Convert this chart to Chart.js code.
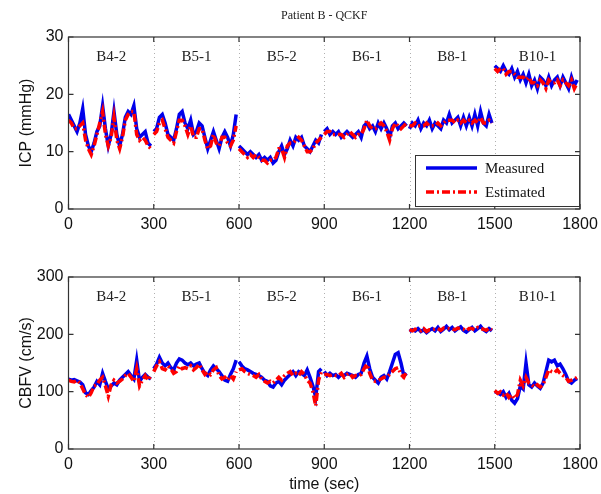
<!DOCTYPE html>
<html>
<head>
<meta charset="utf-8">
<script src="https://cdn.jsdelivr.net/npm/chart.js@4.4.0/dist/chart.umd.min.js"></script>
<style>
  body { margin: 0; background: #fff; width: 601px; height: 494px; overflow: hidden; }
  .box { position: absolute; left: 0; width: 601px; }
</style>
</head>
<body>
<div class="box" style="top:0;height:240px"><canvas id="icpChart"></canvas></div>
<div class="box" style="top:240px;height:254px"><canvas id="cbfvChart"></canvas></div>
<script>
// Segments (recordings), 300 s each
const segLabels = ['B4-2', 'B5-1', 'B5-2', 'B6-1', 'B8-1', 'B10-1'];
const segStarts = [0, 300, 600, 900, 1200, 1500];
// sample times inside a segment (sec)
const sampleOffsets = [0, 10, 20, 30, 40, 50, 60, 70, 80, 90, 100, 110, 120, 130, 140,
  150, 160, 170, 180, 190, 200, 210, 220, 230, 240, 250, 260, 270, 280, 290];

const xTicks = [0, 300, 600, 900, 1200, 1500, 1800];
const icpTicks = [0, 10, 20, 30];
const cbfvTicks = [0, 100, 200, 300];

// ICP (mmHg), one row per segment
const icpMeasured = [
  [16.5, 15.5, 14.5, 13.5, 15, 17.5, 13, 11, 10, 11.5, 13.5, 14.5, 18, 14, 11, 13, 17, 13, 11, 13, 16, 17, 16.5, 18, 14, 12.5, 13, 13.5, 11.5, 11],
  [13.5, 14, 16, 16.5, 15, 13, 12.5, 12, 14, 16.5, 17, 15, 14, 15.5, 13, 13.5, 15, 14.5, 12.5, 10.5, 12, 13.5, 12, 10.5, 12.5, 13.5, 12.5, 11, 13, 16.5],
  [11, 10.5, 10, 9.5, 10, 9.5, 9, 9.5, 8.5, 9, 8.5, 9, 8, 8.5, 10, 11, 9.5, 10.5, 12, 11, 12.5, 12, 12.5, 11, 10.5, 10, 11, 12, 11.5, 13],
  [13.5, 14, 13, 13.5, 13, 13.5, 12.5, 13, 13.5, 13, 12.5, 13, 13.5, 12.5, 14.5, 15, 14, 14.5, 13.5, 15, 14, 15, 14, 12.5, 14.5, 15, 14, 14.5, 15, 14.5],
  [14, 15, 14.5, 15.5, 14, 15, 14.5, 15.5, 14, 15, 14.5, 14, 15.5, 15, 16.5, 15, 15.5, 16, 14.5, 16, 14.5, 16, 14.5, 16.5, 14.5, 17, 15, 14.5, 16.5, 15],
  [25, 24.5, 24, 25, 24, 23.5, 24.5, 23, 24, 22.5, 23.5, 22, 23.5, 21.5, 22.5, 21, 23, 22.5, 21.5, 23, 21.5, 22.5, 23, 21.5, 23, 22, 21, 23, 21.5, 22.5]
];
const icpEstimated = [
  [15.5, 15, 14, 14, 14.5, 15, 12, 10.5, 9.5, 11, 13, 15, 17, 13, 11, 12.5, 16, 12, 10.5, 12.5, 15.5, 16.5, 17, 17, 13, 12, 12.5, 12, 11, 10.5],
  [13, 13.5, 15, 15.5, 14, 12.5, 12, 11.5, 13.5, 15.5, 15.5, 14.5, 13, 14.5, 12.5, 12.5, 14, 14, 12, 10.5, 11, 13, 11.5, 11, 12.5, 12.5, 11.5, 11, 12, 14.5],
  [10.5, 10, 9.5, 9, 9.5, 9, 9.5, 9, 8.5, 8.5, 8, 8.5, 8.5, 9, 10.5, 10.5, 9, 11, 11.5, 11.5, 12, 12.5, 12, 11, 10, 10, 10.5, 11.5, 12, 12.5],
  [13, 13.5, 13.5, 13, 13, 13, 13, 12.5, 13, 13.5, 13, 12.5, 13, 13, 14, 15.5, 14.5, 14, 14, 14.5, 15, 14.5, 13.5, 12, 14, 15, 14.5, 14, 14.5, 15],
  [14.5, 14.5, 15, 14.5, 14.5, 14.5, 15, 14.5, 14.5, 14.5, 15, 14.5, 15, 15.5, 15.5, 15.5, 15, 15.5, 15, 15.5, 15, 15.5, 15, 15.5, 15, 16, 15, 15, 15.5, 15],
  [24.5, 24, 24.5, 24.5, 23.5, 24, 24, 23.5, 23, 23, 23, 22.5, 23, 22, 22, 21.5, 22.5, 22, 21, 22.5, 22, 22, 22.5, 21.5, 22.5, 22, 21.5, 22.5, 21, 22]
];

// CBFV (cm/s), one row per segment
const cbfvMeasured = [
  [122, 120, 121, 119, 117, 112, 98, 95, 102, 108, 118, 112, 132, 118, 105, 110, 115, 112, 120, 125, 130, 135, 128, 122, 155, 118, 125, 130, 125, 122],
  [140, 148, 160, 150, 145, 150, 142, 138, 150, 157, 155, 150, 147, 150, 145, 148, 150, 140, 132, 128, 138, 145, 140, 135, 128, 120, 118, 130, 140, 155],
  [152, 145, 140, 138, 135, 132, 130, 128, 125, 120, 118, 110, 108, 115, 118, 112, 120, 125, 130, 135, 128, 135, 132, 128, 138, 125, 110, 90, 135, 140],
  [135, 128, 132, 128, 130, 125, 130, 128, 132, 130, 128, 125, 130, 132, 150, 162, 140, 125, 120, 115, 125, 128, 122, 135, 150, 165, 168, 150, 128, 132],
  [205, 208, 206, 210, 205, 208, 203, 207, 210, 206, 212, 205, 209, 214, 208, 212, 206, 210, 213, 207, 204, 208, 212, 206, 210, 214, 208, 205, 210, 206],
  [100, 98, 95, 100, 90, 97, 85, 80, 88, 110, 105, 150, 112, 108, 115, 110, 106, 115, 135, 155, 152, 155, 145, 148, 140, 130, 118, 115, 120, 123]
];
const cbfvEstimated = [
  [120, 118, 117, 120, 115, 105, 95, 90, 98, 110, 112, 120, 125, 110, 92, 112, 120, 115, 118, 122, 128, 132, 125, 118, 140, 110, 120, 128, 120, 128],
  [135, 145, 152, 140, 138, 145, 140, 132, 135, 145, 140, 142, 140, 145, 138, 142, 148, 138, 130, 135, 130, 138, 142, 128, 122, 125, 120, 128, 122, 135],
  [138, 140, 135, 132, 130, 128, 125, 130, 122, 118, 115, 118, 115, 120, 125, 120, 128, 132, 135, 128, 132, 128, 135, 130, 120, 115, 100, 75, 120, 135],
  [130, 130, 128, 130, 128, 128, 132, 125, 130, 132, 125, 128, 128, 130, 140, 148, 132, 120, 118, 120, 122, 125, 125, 130, 135, 140, 142, 130, 125, 135],
  [208, 206, 209, 207, 206, 210, 205, 208, 208, 209, 210, 207, 211, 210, 210, 209, 208, 211, 210, 209, 206, 210, 210, 208, 212, 210, 209, 207, 211, 208],
  [102, 97, 100, 94, 98, 90, 95, 88, 95, 120, 110, 125, 115, 112, 108, 112, 108, 112, 125, 138, 135, 133, 138, 132, 128, 125, 118, 120, 122, 125]
];

const SANS = '"Liberation Sans", Arial, sans-serif';
const SERIF = '"Liberation Serif", "Times New Roman", serif';
const BLUE = 'rgb(0, 0, 235)';
const RED = 'rgb(255, 0, 0)';
const RED_DASH = [8, 3, 2, 3];

// segments -> {x,y} points with a null break between recordings
function toPoints(segs) {
  const pts = [];
  segs.forEach((vals, i) => {
    vals.forEach((v, j) => pts.push({ x: segStarts[i] + sampleOffsets[j], y: v }));
    pts.push({ x: segStarts[i] + 295, y: null });
  });
  return pts;
}

// frame, inward ticks, dotted separators, segment names
const matlabAxes = {
  id: 'matlabAxes',
  beforeDatasetsDraw(chart) {
    const { ctx, chartArea: a, scales } = chart;
    ctx.save();
    ctx.strokeStyle = '#b0b0b0';
    ctx.lineWidth = 1;
    ctx.setLineDash([1, 3]);
    for (let i = 1; i < segStarts.length; i++) {
      const x = Math.round(scales.x.getPixelForValue(segStarts[i])) + 0.5;
      ctx.beginPath();
      ctx.moveTo(x, a.top);
      ctx.lineTo(x, a.bottom);
      ctx.stroke();
    }
    ctx.setLineDash([]);
    ctx.fillStyle = '#222';
    ctx.font = '15px ' + SERIF;
    ctx.textAlign = 'center';
    ctx.textBaseline = 'middle';
    segLabels.forEach((lab, i) => {
      ctx.fillText(lab, scales.x.getPixelForValue(segStarts[i] + 150), a.top + 20);
    });
    ctx.restore();
  },
  afterDraw(chart) {
    const { ctx, chartArea: a, scales } = chart;
    ctx.save();
    ctx.strokeStyle = '#333';
    ctx.lineWidth = 1.2;
    ctx.strokeRect(a.left, a.top, a.right - a.left, a.bottom - a.top);
    ctx.beginPath();
    scales.x.ticks.forEach(t => {
      const x = scales.x.getPixelForValue(t.value);
      ctx.moveTo(x, a.bottom); ctx.lineTo(x, a.bottom - 5);
      ctx.moveTo(x, a.top); ctx.lineTo(x, a.top + 5);
    });
    scales.y.ticks.forEach(t => {
      const y = scales.y.getPixelForValue(t.value);
      ctx.moveTo(a.left, y); ctx.lineTo(a.left + 5, y);
      ctx.moveTo(a.right, y); ctx.lineTo(a.right - 5, y);
    });
    ctx.stroke();
    ctx.restore();
  }
};

// title + legend box on the ICP panel
const icpExtras = {
  id: 'icpExtras',
  afterDraw(chart) {
    const { ctx, chartArea: a } = chart;
    ctx.save();
    ctx.fillStyle = '#222';
    ctx.font = '12px ' + SERIF;
    ctx.textAlign = 'center';
    ctx.textBaseline = 'middle';
    ctx.fillText('Patient B - QCKF', (a.left + a.right) / 2, 16);

    const bx = a.right - 165, by = a.bottom - 54, bw = 164, bh = 51;
    ctx.fillStyle = '#fff';
    ctx.fillRect(bx, by, bw, bh);
    ctx.strokeStyle = '#333';
    ctx.lineWidth = 1;
    ctx.strokeRect(bx + 0.5, by + 0.5, bw, bh);

    ctx.lineWidth = 3.5;
    ctx.strokeStyle = BLUE;
    ctx.beginPath(); ctx.moveTo(bx + 11, by + 13); ctx.lineTo(bx + 62, by + 13); ctx.stroke();
    ctx.strokeStyle = RED;
    ctx.setLineDash(RED_DASH);
    ctx.beginPath(); ctx.moveTo(bx + 11, by + 37); ctx.lineTo(bx + 62, by + 37); ctx.stroke();
    ctx.setLineDash([]);

    ctx.fillStyle = '#111';
    ctx.font = '15px ' + SERIF;
    ctx.textAlign = 'left';
    ctx.fillText('Measured', bx + 70, by + 14);
    ctx.fillText('Estimated', bx + 70, by + 38);
    ctx.restore();
  }
};

function makeChart(id, measured, estimated, yTicks, yTitle, xTitle, xAxisH, extraPlugins) {
  return new Chart(document.getElementById(id), {
    type: 'line',
    data: {
      datasets: [
        { label: 'Measured', data: toPoints(measured), borderColor: BLUE, borderWidth: 3.5,
          pointRadius: 0, spanGaps: false, order: 2 },
        { label: 'Estimated', data: toPoints(estimated), borderColor: RED, borderWidth: 3.5,
          borderDash: RED_DASH, pointRadius: 0, spanGaps: false, order: 1 }
      ]
    },
    options: {
      responsive: true,
      maintainAspectRatio: false,
      animation: false,
      layout: { padding: { left: 17, right: 21, top: 37, bottom: 0 } },
      plugins: { legend: { display: false }, tooltip: { enabled: false } },
      scales: {
        x: {
          type: 'linear', min: 0, max: 1800,
          afterBuildTicks: s => { s.ticks = xTicks.map(v => ({ value: v })); },
          ticks: { color: '#111', font: { family: SANS, size: 16 }, padding: 6, maxRotation: 0,
                   callback: v => String(v) },
          grid: { display: false, drawTicks: false },
          border: { display: false },
          title: { display: !!xTitle, text: xTitle, color: '#111', font: { family: SANS, size: 16 }, padding: 0 },
          afterFit: s => { s.height = xAxisH; s.paddingLeft = 0; s.paddingRight = 0; }
        },
        y: {
          min: 0, max: yTicks[yTicks.length - 1],
          afterBuildTicks: s => { s.ticks = yTicks.map(v => ({ value: v })); },
          ticks: { color: '#111', font: { family: SANS, size: 16 }, padding: 5, callback: v => String(v) },
          grid: { display: false, drawTicks: false },
          border: { display: false },
          title: { display: true, text: yTitle, color: '#111', font: { family: SANS, size: 16 }, padding: 0 },
          afterFit: s => { s.width = 68.5 - 17; s.paddingTop = 0; s.paddingBottom = 0; }
        }
      }
    },
    plugins: [matlabAxes].concat(extraPlugins)
  });
}

makeChart('icpChart', icpMeasured, icpEstimated, icpTicks, 'ICP (mmHg)', '', 31, [icpExtras]);
makeChart('cbfvChart', cbfvMeasured, cbfvEstimated, cbfvTicks, 'CBFV (cm/s)', 'time (sec)', 45, []);
</script>
</body>
</html>
